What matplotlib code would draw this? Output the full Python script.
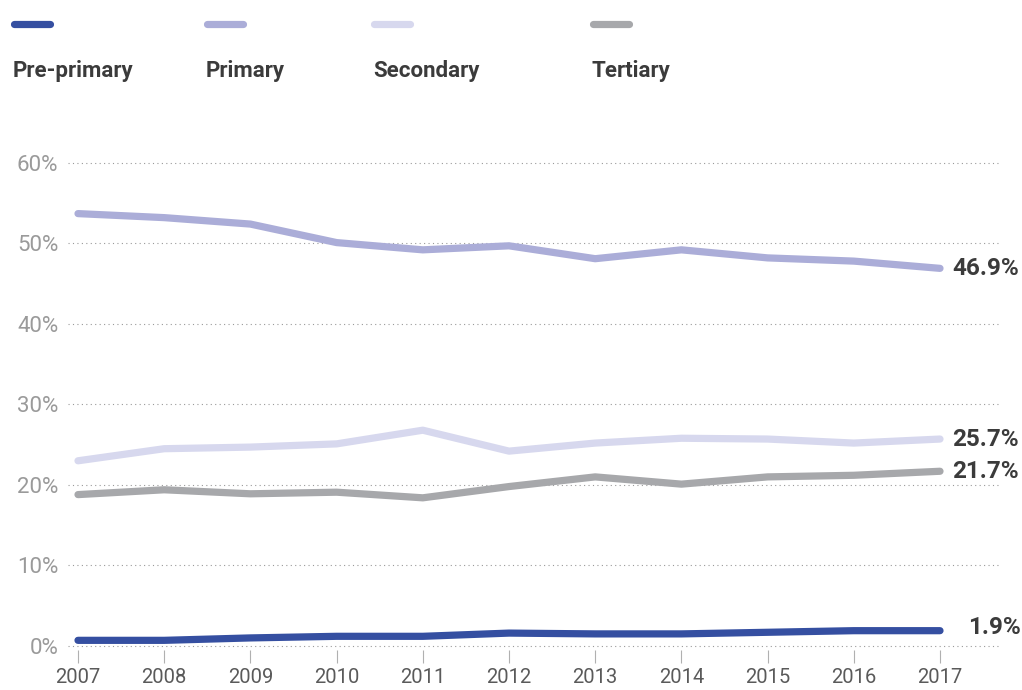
import matplotlib
matplotlib.use("Agg")
import matplotlib.pyplot as plt
from matplotlib.lines import Line2D

years = [2007, 2008, 2009, 2010, 2011, 2012, 2013, 2014, 2015, 2016, 2017]
pre_primary = [0.7, 0.7, 1.0, 1.2, 1.2, 1.6, 1.5, 1.5, 1.7, 1.9, 1.9]
primary = [53.7, 53.2, 52.4, 50.1, 49.2, 49.7, 48.1, 49.2, 48.2, 47.8, 46.9]
secondary = [23.0, 24.5, 24.7, 25.1, 26.8, 24.2, 25.2, 25.8, 25.7, 25.2, 25.7]
tertiary = [18.8, 19.4, 18.9, 19.1, 18.4, 19.8, 21.0, 20.1, 21.0, 21.2, 21.7]

names = ["Pre-primary", "Primary", "Secondary", "Tertiary"]
colors = ["#354fa1", "#abadd8", "#d7d8ee", "#a7a8ab"]
yticks = [0, 10, 20, 30, 40, 50, 60]

plt.rcParams['font.family'] = ['Roboto', 'DejaVu Sans']

fig = plt.figure(figsize=(10.22, 6.90), dpi=100)
ax = fig.add_axes([68 / 1022, 40 / 690, 932 / 1022, 500 / 690])

series = [pre_primary, primary, secondary, tertiary]
for vals, c in zip(series, colors):
    ax.plot(years, vals, color=c, lw=5.2, solid_capstyle='round',
            solid_joinstyle='round', zorder=3)

# end-of-line value labels (the small one sits a bit further right)
offsets = [(20, 2), (9, 0), (9, 0), (9, 0)]
for vals, off in zip(series, offsets):
    ax.annotate(f"{vals[-1]:.1f}%", (years[-1], vals[-1]), xytext=off,
                textcoords='offset points', ha='left', va='center',
                fontsize=17.5, fontweight='bold', color='#3b3b3b',
                annotation_clip=False)

ax.set_xlim(2006.884, 2017.696)
ax.set_ylim(-0.5, 61.6)

ax.set_yticks(yticks)
ax.set_yticklabels([f"{v}%" for v in yticks])
ax.grid(axis='y', linestyle=(0, (1, 3)), color='#9a9a9a', lw=0.8)
ax.set_xticks(years)
ax.set_xticklabels([str(y) for y in years])
ax.tick_params(axis='y', length=0, pad=7, labelsize=16, labelcolor='#9a9a9a')
ax.tick_params(axis='x', length=9, width=0.8, color='#b0b0b0', direction='out',
               pad=4, labelsize=14.5, labelcolor='#5a5a5a')
for s in ax.spines.values():
    s.set_visible(False)

# legend across the top
leg_x = [14, 207, 374, 593]
for name, c, x in zip(names, colors, leg_x):
    fig.add_artist(Line2D([x / 1022, (x + 36) / 1022], [1 - 24 / 690] * 2,
                          color=c, lw=5.2, solid_capstyle='round'))
    fig.text((x - 1) / 1022, 1 - 71 / 690, name, ha='left', va='center',
             fontsize=16, fontweight='bold', color='#3b3b3b')

fig.savefig("out.png", dpi=100)
